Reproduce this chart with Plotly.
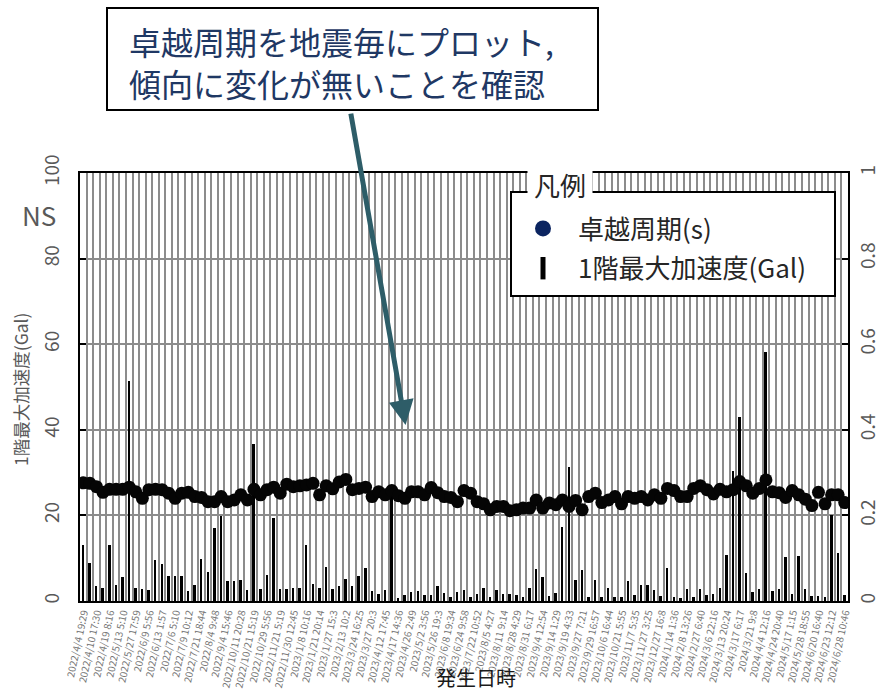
import plotly.graph_objects as go

# Event labels shown on the category axis (every second event)
tick_labels = [
    "2022/4/4 19:29", "2022/4/10 17:30", "2022/4/19 8:16", "2022/5/13 5:10",
    "2022/5/27 17:59", "2022/6/9 5:56", "2022/6/13 1:57", "2022/7/6 5:10",
    "2022/7/9 10:12", "2022/7/21 18:44", "2022/8/4 9:48", "2022/9/4 15:46",
    "2022/10/11 20:28", "2022/10/21 15:19", "2022/10/29 5:56", "2022/11/21 5:19",
    "2022/11/30 12:45", "2023/1/8 10:16", "2023/1/21 20:14", "2023/1/27 15:3",
    "2023/2/13 10:2", "2023/3/24 16:25", "2023/3/27 20:3", "2023/4/12 17:45",
    "2023/4/17 14:36", "2023/4/26 2:49", "2023/5/2 3:56", "2023/5/26 19:3",
    "2023/6/8 19:34", "2023/6/24 9:58", "2023/7/22 10:52", "2023/8/5 4:27",
    "2023/8/11 9:14", "2023/8/28 4:29", "2023/8/31 6:17", "2023/9/4 12:54",
    "2023/9/14 1:29", "2023/9/19 4:33", "2023/9/27 7:21", "2023/9/29 16:57",
    "2023/10/6 16:44", "2023/10/21 5:55", "2023/11/7 5:35", "2023/11/27 3:25",
    "2023/12/27 16:8", "2024/1/14 1:36", "2024/2/8 13:26", "2024/2/27 6:40",
    "2024/3/6 22:16", "2024/3/13 20:24", "2024/3/17 6:17", "2024/3/21 9:8",
    "2024/4/4 12:16", "2024/4/24 20:40", "2024/5/17 1:15", "2024/5/28 18:55",
    "2024/6/20 16:40", "2024/6/23 12:12", "2024/6/28 10:46",
]

# 1F peak acceleration per event (Gal)
max_accel = [
    13.0, 8.9, 3.5, 3.1, 13.0, 3.8, 5.6, 51.5, 3.0, 2.7,
    2.6, 9.5, 8.6, 5.8, 5.8, 5.8, 2.4, 3.7, 9.9, 6.8,
    17.0, 19.9, 4.6, 4.7, 4.9, 2.6, 36.7, 2.8, 6.0, 19.5,
    2.8, 2.9, 3.1, 3.1, 13.0, 4.0, 3.0, 8.0, 2.7, 3.4,
    5.1, 3.4, 5.8, 7.7, 2.4, 1.6, 2.6, 26.7, 0.6, 1.4,
    2.0, 2.3, 1.4, 1.3, 3.4, 1.8, 1.0, 2.2, 2.6, 0.9,
    1.6, 3.0, 0.9, 2.6, 1.6, 1.6, 1.4, 1.0, 3.1, 7.4,
    5.6, 1.1, 1.9, 17.3, 31.4, 5.0, 7.2, 0.9, 5.0, 0.9,
    3.0, 1.0, 0.9, 4.7, 1.5, 3.7, 3.7, 2.6, 1.2, 7.8,
    0.9, 0.6, 2.8, 0.9, 2.9, 1.4, 1.7, 3.1, 10.7, 30.4,
    43.1, 6.5, 2.0, 2.8, 58.2, 2.3, 2.8, 10.3, 1.6, 10.4,
    2.9, 1.2, 1.2, 1.0, 20.2, 11.3, 1.4,
]

# Predominant period per event (s)
period = [
    0.276, 0.275, 0.267, 0.254, 0.261, 0.261, 0.261, 0.266, 0.255, 0.240,
    0.260, 0.261, 0.260, 0.252, 0.240, 0.252, 0.254, 0.244, 0.242, 0.232,
    0.232, 0.244, 0.232, 0.236, 0.248, 0.236, 0.261, 0.248, 0.260, 0.266,
    0.252, 0.273, 0.267, 0.269, 0.271, 0.275, 0.248, 0.269, 0.262, 0.278,
    0.284, 0.260, 0.263, 0.266, 0.244, 0.255, 0.248, 0.258, 0.246, 0.240,
    0.255, 0.255, 0.248, 0.265, 0.253, 0.244, 0.242, 0.232, 0.258, 0.252,
    0.232, 0.227, 0.213, 0.221, 0.221, 0.211, 0.213, 0.217, 0.217, 0.236,
    0.217, 0.229, 0.225, 0.236, 0.221, 0.235, 0.213, 0.244, 0.252, 0.230,
    0.236, 0.244, 0.227, 0.244, 0.240, 0.244, 0.236, 0.248, 0.240, 0.263,
    0.258, 0.244, 0.244, 0.263, 0.269, 0.260, 0.250, 0.261, 0.255, 0.260,
    0.279, 0.269, 0.252, 0.263, 0.283, 0.255, 0.253, 0.242, 0.258, 0.248,
    0.238, 0.223, 0.254, 0.227, 0.248, 0.248, 0.230,
]

n = len(max_accel)
idx = list(range(n))
tick_idx = idx[::2]

FONT = "Noto Sans CJK JP"
GRID = "#8c8c8c"
TICKCOL = "#595959"

fig = go.Figure()

fig.add_trace(go.Bar(
    x=idx, y=max_accel, width=0.3, yaxis="y",
    marker=dict(color="black", line=dict(width=0)),
    showlegend=False,
))
fig.add_trace(go.Scatter(
    x=idx, y=period, mode="markers", yaxis="y2",
    marker=dict(color="#050505", size=13),
    showlegend=False,
))

# legend keys
fig.add_trace(go.Scatter(
    x=[None], y=[None], mode="markers", yaxis="y2", name="卓越周期(s)",
    legendgroup="period",
    marker=dict(color="#0B2460", size=16, symbol="circle"),
))
fig.add_trace(go.Scatter(
    x=[None], y=[None], mode="markers", yaxis="y", name="1階最大加速度(Gal)",
    legendgroup="accel",
    marker=dict(color="black", size=20, symbol="line-ns",
                line=dict(width=5, color="black")),
))

fig.update_layout(
    width=885, height=693,
    margin=dict(l=80, r=37, t=173, b=92),
    paper_bgcolor="white", plot_bgcolor="white",
    font=dict(family=FONT, color="#262626"),
    bargap=0,
    xaxis=dict(
        range=[-0.5, n - 0.5], automargin=False,
        tickmode="array", tickvals=tick_idx, ticktext=tick_labels,
        tickangle=-78, ticks="", showgrid=False, zeroline=False,
        tickfont=dict(size=10, color="#777777", family=FONT),
        minor=dict(tickmode="linear", tick0=0.5, dtick=1, showgrid=True,
                   gridcolor=GRID, gridwidth=2, ticks=""),
        showline=True, linecolor="black", linewidth=2, mirror=True,
    ),
    yaxis=dict(
        range=[0, 100], tickmode="linear", tick0=0, dtick=20, automargin=False,
        tickangle=-90, ticks="inside", ticklen=6, tickwidth=2, tickcolor="black",
        showgrid=True, gridcolor=GRID, gridwidth=2, zeroline=False,
        showline=True, linecolor="black", linewidth=2,
        tickfont=dict(size=19, color=TICKCOL, family=FONT),
        ticklabelstandoff=11,
    ),
    yaxis2=dict(
        range=[0, 1], tickmode="linear", tick0=0, dtick=0.2, automargin=False,
        overlaying="y", side="right",
        tickangle=-90, ticks="inside", ticklen=6, tickwidth=2, tickcolor="black",
        showgrid=False, zeroline=False,
        showline=True, linecolor="black", linewidth=2,
        tickfont=dict(size=19, color=TICKCOL, family=FONT),
        ticklabelstandoff=2,
    ),
    legend=dict(
        x=(508 - 80) / 768, y=(601 - 205) / 428, xanchor="left", yanchor="top",
        bgcolor="rgba(0,0,0,0)", borderwidth=0,
        font=dict(size=26, family=FONT, color="#262626"),
        itemwidth=60, tracegroupgap=3,
    ),
)

# legend frame and callout box
fig.add_shape(type="rect", xref="paper", yref="paper", layer="above",
              x0=(511 - 80) / 768, x1=(835 - 80) / 768,
              y0=(601 - 296) / 428, y1=(601 - 192) / 428,
              line=dict(color="black", width=2), fillcolor="white")
fig.add_shape(type="rect", xref="paper", yref="paper", layer="above",
              x0=(107 - 80) / 768, x1=(598 - 80) / 768,
              y0=(601 - 110) / 428, y1=(601 - 8) / 428,
              line=dict(color="black", width=2), fillcolor="white")

fig.add_annotation(
    xref="paper", yref="paper", x=(127 - 80) / 768, y=(601 - 62) / 428,
    xanchor="left", yanchor="middle", align="left", showarrow=False,
    text="卓越周期を地震毎にプロット,<br>傾向に変化が無いことを確認",
    font=dict(size=32, color="#1F3864", family=FONT),
)
# callout arrow
fig.add_annotation(
    xref="x", yref="y", x=49.1, y=41.1, ax=-55, ay=-313,
    axref="pixel", ayref="pixel", text="", showarrow=True,
    arrowhead=2, arrowsize=1, arrowwidth=5, arrowcolor="#2E5D68",
)
fig.add_annotation(
    xref="paper", yref="paper", x=(560 - 80) / 768, y=(601 - 184) / 428,
    xanchor="center", yanchor="middle", showarrow=False, text="凡例",
    font=dict(size=26, color="#262626", family=FONT),
    bgcolor="white", borderpad=6,
)
fig.add_annotation(
    xref="paper", yref="paper", x=(39 - 80) / 768, y=(601 - 214) / 428,
    xanchor="center", yanchor="middle", showarrow=False, text="NS",
    font=dict(size=26, color=TICKCOL, family=FONT),
)
fig.add_annotation(
    xref="paper", yref="paper", x=(20 - 80) / 768, y=(601 - 390) / 428,
    xanchor="center", yanchor="middle", showarrow=False, textangle=-90,
    text="1階最大加速度(Gal)",
    font=dict(size=17.5, color=TICKCOL, family=FONT),
)
fig.add_annotation(
    xref="paper", yref="paper", x=(476 - 80) / 768, y=(601 - 677) / 428,
    xanchor="center", yanchor="middle", showarrow=False, text="発生日時",
    font=dict(size=20, color="#1a1a1a", family=FONT),
)

fig.write_html("out.html")
